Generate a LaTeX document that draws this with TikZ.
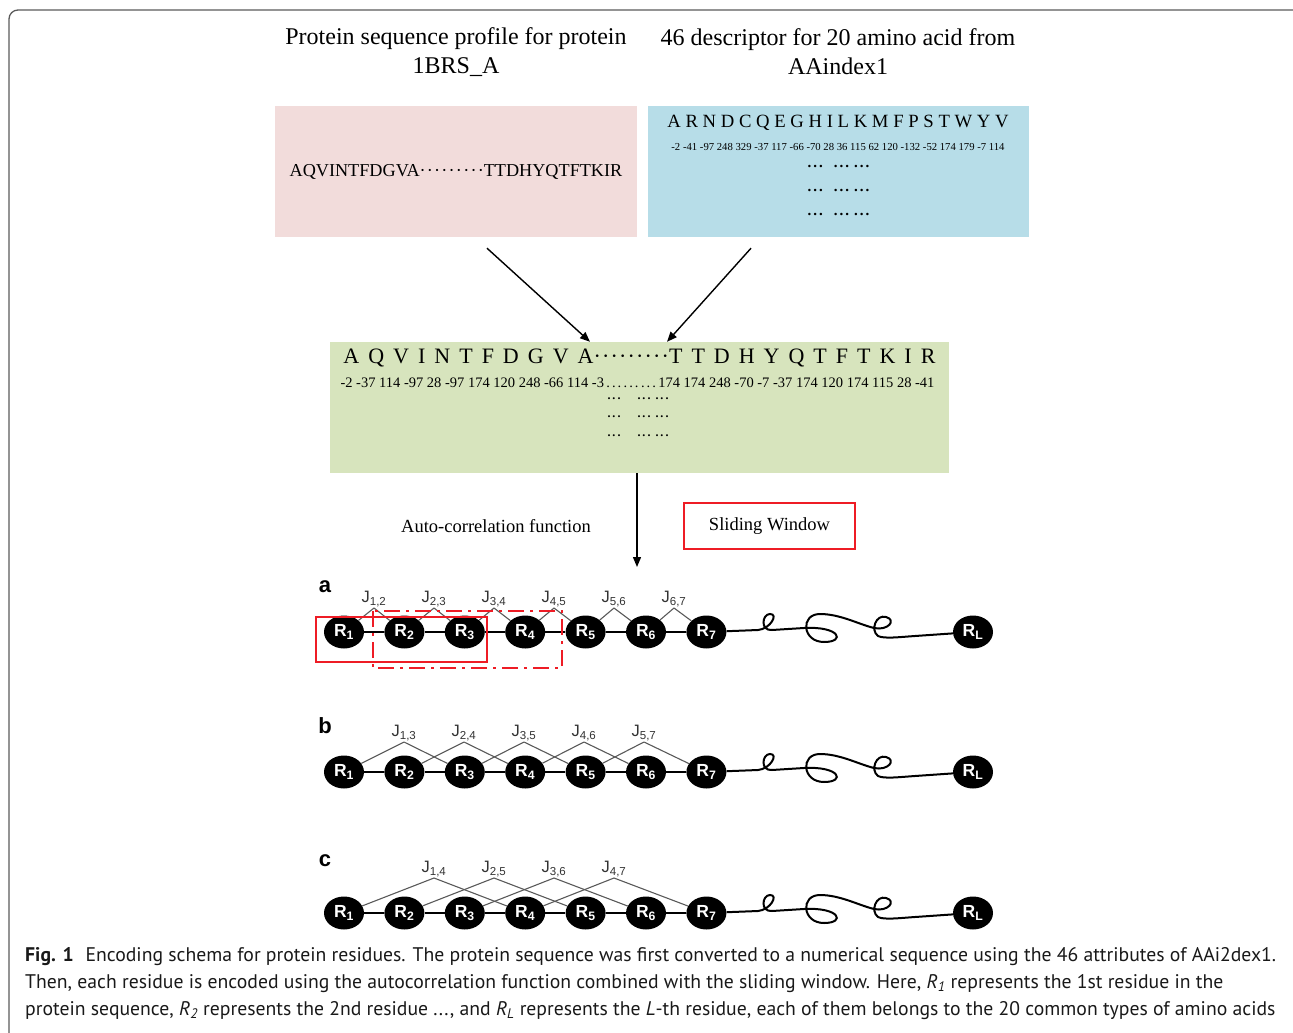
\documentclass[tikz,border=0pt]{standalone}
\usepackage{fontspec}
\setmainfont{Liberation Serif}
\setsansfont{Liberation Sans}
\newfontfamily\captionfont{PT Sans}
\usepackage{tikz}
\usetikzlibrary{arrows.meta}
\usetikzlibrary{positioning}
\usetikzlibrary{shapes}
\usepackage{xcolor}

\definecolor{profilepink}{HTML}{F2DCDB}
\definecolor{indexblue}{HTML}{B7DDE8}
\definecolor{codegreen}{HTML}{D7E4BD}
\definecolor{frameGray}{HTML}{5A5A5A}
\definecolor{windowRed}{HTML}{EE1C25}

\tikzset{
	panel/.style={inner sep=0pt, minimum height=131pt},
	title/.style={align=center, font=\fontsize{24}{29}\selectfont},
	residue/.style={ellipse, fill=black, text=white, minimum width=40pt, minimum height=33pt, inner sep=0pt, font=\sffamily\bfseries\fontsize{17.5}{17.5}\selectfont},
	jlabel/.style={anchor=south, inner sep=1pt, text=black!80, font=\sffamily\fontsize{16.5}{16.5}\selectfont},
	jline/.style={draw=black!65, line width=1.1pt},
	chain/.style={draw=black, line width=2pt},
	arrowline/.style={-{Triangle[length=10pt,width=8pt]}, line width=1.4pt},
	rowlabel/.style={font=\sffamily\bfseries\fontsize{22}{22}\selectfont},
	capline/.style={anchor=base west, inner sep=0pt, text=black!90, font=\captionfont\fontsize{19.7}{22}\selectfont}
}

\newcommand{\dotgroup}{.\kern2pt.\kern2pt.}
\newcommand{\dotrun}{\textperiodcentered\kern1.2pt\textperiodcentered\kern1.2pt\textperiodcentered\kern1.2pt\textperiodcentered\kern1.2pt\textperiodcentered\kern1.2pt\textperiodcentered\kern1.2pt\textperiodcentered\kern1.2pt\textperiodcentered\kern1.2pt\textperiodcentered}
% the coiled tail between R7 and RL (coordinates of row a)
\newcommand{\coil}{%
	-- (758,630)
	.. controls (770,629) and (779,614) .. (770,614)
	.. controls (762,614) and (760,631) .. (772,630)
	-- (804,628)
	.. controls (840,626) and (846,642) .. (824,642)
	.. controls (802,642) and (800,614) .. (820,614)
	.. controls (840,614) and (858,624) .. (874,628)
	.. controls (888,631) and (897,620) .. (886,617)
	.. controls (876,614) and (870,630) .. (878,636)
	.. controls (884,639) and (900,637) .. (915,636)
	--}

\begin{document}
\begin{tikzpicture}[x=1pt, y=-1pt]
	\useasboundingbox (0,0) rectangle (1293,1033);
	\draw[frameGray, line width=1.3pt, rounded corners=9pt] (9,1045) -- (9,10) -- (1305,10);

	\node[title] (proftitle) at (456,52) {Protein sequence profile for protein\\1BRS\_A};
	\node[title] (desctitle) at (838,52) {46 descriptor for 20 amino acid from\\AAindex1};

	\node[panel, fill=profilepink, minimum width=362pt] (profile) at (456,171.5) {};
	\node[font=\fontsize{18.2}{18.2}\selectfont] (profseq) at (456,172) {AQVINTFDGVA\dotrun TTDHYQTFTKIR};

	\node[panel, fill=indexblue, minimum width=381pt] (aaindex) at (838.5,171.5) {};
	\node[font=\fontsize{18.7}{18.7}\selectfont] (aaletters) at (838,123) {A R N D C Q E G H I L K M F P S T W Y V};
	\node[font=\fontsize{10.7}{10.7}\selectfont] (aavalues) at (838,147) {-2 -41 -97 248 329 -37 117 -66 -70 28 36 115 62 120 -132 -52 174 179 -7 114};
	\node[font=\bfseries\fontsize{15}{15}\selectfont] (aadotsA) at (838.5,166) {\dotgroup\hspace{11pt}\dotgroup\hspace{5pt}\dotgroup};
	\node[font=\bfseries\fontsize{15}{15}\selectfont] (aadotsB) at (838.5,190) {\dotgroup\hspace{11pt}\dotgroup\hspace{5pt}\dotgroup};
	\node[font=\bfseries\fontsize{15}{15}\selectfont] (aadotsC) at (838.5,214) {\dotgroup\hspace{11pt}\dotgroup\hspace{5pt}\dotgroup};

	\node[panel, fill=codegreen, minimum width=619pt] (seqbox) at (639.5,407.5) {};
	\node[font=\fontsize{22}{22}\selectfont] (seqletters) at (639.5,358) {\spaceskip=9pt\relax A Q V I N T F D G V A\dotrun T T D H Y Q T F T K I R};
	\node[font=\fontsize{14.5}{14.5}\selectfont] (seqvalues) at (637.5,383) {-2 -37 114 -97 28 -97 174 120 248 -66 114 -3\,\dotgroup\,\dotgroup\,\dotgroup\,174 174 248 -70 -7 -37 174 120 174 115 28 -41};
	\node[font=\bfseries\fontsize{12}{12}\selectfont] (seqdotsA) at (638,399) {\dotgroup\hspace{17pt}\dotgroup\hspace{5pt}\dotgroup};
	\node[font=\bfseries\fontsize{12}{12}\selectfont] (seqdotsB) at (638,417) {\dotgroup\hspace{17pt}\dotgroup\hspace{5pt}\dotgroup};
	\node[font=\bfseries\fontsize{12}{12}\selectfont] (seqdotsC) at (638,436) {\dotgroup\hspace{17pt}\dotgroup\hspace{5pt}\dotgroup};

	\draw[arrowline] ([xshift=31pt,yshift=-11pt]profile.south) -- ([xshift=-49.5pt]seqbox.north);
	\draw[arrowline] ([xshift=-87.5pt,yshift=-11pt]aaindex.south) -- ([xshift=27.5pt]seqbox.north);
	\coordinate (acfend) at (637,567);
	\draw[arrowline] (seqbox.south -| acfend) -- (acfend);

	\node[font=\fontsize{18.5}{18.5}\selectfont] (acf) at (496,526) {Auto-correlation function};
	\node[draw=windowRed, line width=2pt, minimum width=171pt, minimum height=46pt, font=\fontsize{18.5}{18.5}\selectfont] (window) at (769.5,526) {Sliding Window};

	% row a: neighbouring residues
	\node[rowlabel] (rowa) at (325,587) {a};
	\node[residue] (a1) at (344,632) {R\textsubscript{1}};
	\node[residue] (a2) [right=20pt of a1] {R\textsubscript{2}};
	\node[residue] (a3) [right=20pt of a2] {R\textsubscript{3}};
	\node[residue] (a4) [right=20pt of a3] {R\textsubscript{4}};
	\node[residue] (a5) [right=20pt of a4] {R\textsubscript{5}};
	\node[residue] (a6) [right=20pt of a5] {R\textsubscript{6}};
	\node[residue] (a7) [right=20pt of a6] {R\textsubscript{7}};
	\node[residue] (aL) at (973,632) {R\textsubscript{L}};
	\draw[chain] (a1) -- (a2) -- (a3) -- (a4) -- (a5) -- (a6) -- (a7);
	\draw[chain] (a7) \coil (aL);

	\node[jlabel] (ja12) at (374,608) {J\textsubscript{1,2}};
	\node[jlabel] (ja23) at (434,608) {J\textsubscript{2,3}};
	\node[jlabel] (ja34) at (494,608) {J\textsubscript{3,4}};
	\node[jlabel] (ja45) at (554,608) {J\textsubscript{4,5}};
	\node[jlabel] (ja56) at (614,608) {J\textsubscript{5,6}};
	\node[jlabel] (ja67) at (674,608) {J\textsubscript{6,7}};
	\draw[jline] (ja12.south) -- (a1) (ja12.south) -- (a2);
	\draw[jline] (ja23.south) -- (a2) (ja23.south) -- (a3);
	\draw[jline] (ja34.south) -- (a3) (ja34.south) -- (a4);
	\draw[jline] (ja45.south) -- (a4) (ja45.south) -- (a5);
	\draw[jline] (ja56.south) -- (a5) (ja56.south) -- (a6);
	\draw[jline] (ja67.south) -- (a6) (ja67.south) -- (a7);

	\draw[windowRed, line width=2.2pt] (316,617) rectangle (487,662);
	\draw[windowRed, line width=2pt, dash pattern=on 16pt off 6pt on 3pt off 6pt] (373,611) rectangle (562,668);

	% row b: residues two apart
	\node[rowlabel] (rowb) at (325,726) {b};
	\node[residue] (b1) at (344,772) {R\textsubscript{1}};
	\node[residue] (b2) [right=20pt of b1] {R\textsubscript{2}};
	\node[residue] (b3) [right=20pt of b2] {R\textsubscript{3}};
	\node[residue] (b4) [right=20pt of b3] {R\textsubscript{4}};
	\node[residue] (b5) [right=20pt of b4] {R\textsubscript{5}};
	\node[residue] (b6) [right=20pt of b5] {R\textsubscript{6}};
	\node[residue] (b7) [right=20pt of b6] {R\textsubscript{7}};
	\node[residue] (bL) at (973,772) {R\textsubscript{L}};
	\draw[chain] (b1) -- (b2) -- (b3) -- (b4) -- (b5) -- (b6) -- (b7);
	\begin{scope}[shift={(0,140)}]
		\draw[chain] (b7) \coil (bL);
	\end{scope}

	\node[jlabel] (jb13) at (404,742) {J\textsubscript{1,3}};
	\node[jlabel] (jb24) at (464,742) {J\textsubscript{2,4}};
	\node[jlabel] (jb35) at (524,742) {J\textsubscript{3,5}};
	\node[jlabel] (jb46) at (584,742) {J\textsubscript{4,6}};
	\node[jlabel] (jb57) at (644,742) {J\textsubscript{5,7}};
	\draw[jline] (jb13.south) -- (b1) (jb13.south) -- (b3);
	\draw[jline] (jb24.south) -- (b2) (jb24.south) -- (b4);
	\draw[jline] (jb35.south) -- (b3) (jb35.south) -- (b5);
	\draw[jline] (jb46.south) -- (b4) (jb46.south) -- (b6);
	\draw[jline] (jb57.south) -- (b5) (jb57.south) -- (b7);

	% row c: residues three apart
	\node[rowlabel] (rowc) at (325,861) {c};
	\node[residue] (c1) at (344,913) {R\textsubscript{1}};
	\node[residue] (c2) [right=20pt of c1] {R\textsubscript{2}};
	\node[residue] (c3) [right=20pt of c2] {R\textsubscript{3}};
	\node[residue] (c4) [right=20pt of c3] {R\textsubscript{4}};
	\node[residue] (c5) [right=20pt of c4] {R\textsubscript{5}};
	\node[residue] (c6) [right=20pt of c5] {R\textsubscript{6}};
	\node[residue] (c7) [right=20pt of c6] {R\textsubscript{7}};
	\node[residue] (cL) at (973,913) {R\textsubscript{L}};
	\draw[chain] (c1) -- (c2) -- (c3) -- (c4) -- (c5) -- (c6) -- (c7);
	\begin{scope}[shift={(0,281)}]
		\draw[chain] (c7) \coil (cL);
	\end{scope}

	\node[jlabel] (jc14) at (434,878) {J\textsubscript{1,4}};
	\node[jlabel] (jc25) at (494,878) {J\textsubscript{2,5}};
	\node[jlabel] (jc36) at (554,878) {J\textsubscript{3,6}};
	\node[jlabel] (jc47) at (614,878) {J\textsubscript{4,7}};
	\draw[jline] (jc14.south) -- (c1) (jc14.south) -- (c4);
	\draw[jline] (jc25.south) -- (c2) (jc25.south) -- (c5);
	\draw[jline] (jc36.south) -- (c3) (jc36.south) -- (c6);
	\draw[jline] (jc47.south) -- (c4) (jc47.south) -- (c7);

	% caption
	\node[capline] (cap1) at (25,961) {\textbf{Fig. 1}\hspace{0.6em}Encoding schema for protein residues. The protein sequence was first converted to a numerical sequence using the 46 attributes of AAi2dex1.};
	\node[capline] (cap2) at (25,988) {Then, each residue is encoded using the autocorrelation function combined with the sliding window. Here, \textit{R}\textsubscript{\textit{1}} represents the 1st residue in the};
	\node[capline] (cap3) at (25,1015) {protein sequence, \textit{R}\textsubscript{\textit{2}} represents the 2nd residue ..., and \textit{R}\textsubscript{\textit{L}} represents the \textit{L}-th residue, each of them belongs to the 20 common types of amino acids};
\end{tikzpicture}
\end{document}
